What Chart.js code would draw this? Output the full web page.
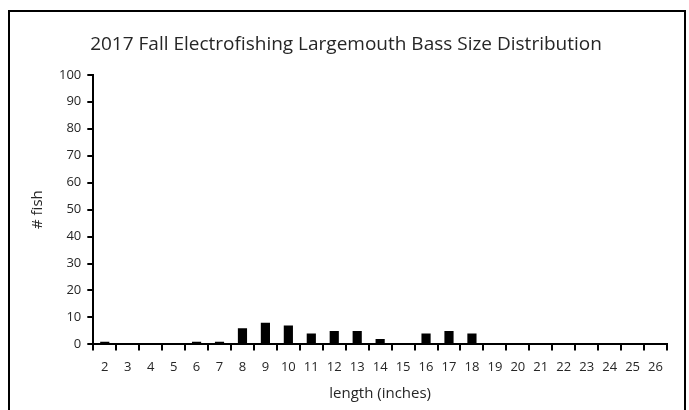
<!DOCTYPE html>
<html>
<head>
<meta charset="utf-8">
<script src="https://cdn.jsdelivr.net/npm/chart.js@4"></script>
<style>
  html, body { margin:0; padding:0; background:#fff; }
  #wrap { position:relative; width:689px; height:410px; }
</style>
</head>
<body>
<div id="wrap"><canvas id="sizeChart" width="689" height="410"></canvas></div>
<script>
const lengths = ["2","3","4","5","6","7","8","9","10","11","12","13","14","15","16","17","18","19","20","21","22","23","24","25","26"];
const fishCounts = [1,0,0,0,1,1,6,8,7,4,5,5,2,0,4,5,4,0,0,0,0,0,0,0,0];

const chartTitle = "2017 Fall Electrofishing Largemouth Bass Size Distribution";
const xTitle = "length (inches)";
const yTitle = "# fish";

const FONT = "'Open Sans', 'Noto Sans', sans-serif";
const TEXT = "#262626";

// outer frame like the spreadsheet chart box
const framePlugin = {
  id: "frame",
  beforeDraw(chart){
    const c = chart.ctx;
    c.save();
    c.fillStyle = "#fff";
    c.fillRect(0, 0, chart.width, chart.height);
    c.strokeStyle = "#000";
    c.lineWidth = 2;
    c.strokeRect(9, 11, 676, 420);
    c.restore();
  }
};

new Chart(document.getElementById("sizeChart"), {
  type: "bar",
  data: {
    labels: lengths,
    datasets: [{
      label: yTitle,
      data: fishCounts,
      backgroundColor: "#000",
      barPercentage: 0.4,
      categoryPercentage: 1
    }]
  },
  options: {
    responsive: false,
    animation: false,
    layout: { padding: { left: 25, right: 22, top: 27, bottom: 3 } },
    plugins: {
      legend: { display: false },
      tooltip: { enabled: false },
      title: {
        display: true,
        text: chartTitle,
        color: TEXT,
        font: { family: FONT, size: 19, weight: "normal" },
        padding: { top: 6, bottom: 19 }
      }
    },
    scales: {
      x: {
        offset: true,
        grid: { display: true, drawOnChartArea: false, offset: true, tickLength: 6, color: "#000", lineWidth: 2 },
        border: { color: "#000", width: 2 },
        ticks: { color: TEXT, font: { family: FONT, size: 13 }, padding: 9, maxRotation: 0, autoSkip: false },
        title: { display: true, text: xTitle, color: TEXT, font: { family: FONT, size: 15 }, padding: { top: 1 } }
      },
      y: {
        min: 0,
        max: 100,
        grid: { display: true, drawOnChartArea: false, tickLength: 6, color: "#000", lineWidth: 2 },
        border: { color: "#000", width: 2 },
        ticks: { stepSize: 10, color: TEXT, font: { family: FONT, size: 13 }, padding: 6 },
        title: { display: true, text: yTitle, color: TEXT, font: { family: FONT, size: 15 }, padding: { bottom: 6 } }
      }
    }
  },
  plugins: [framePlugin]
});
</script>
</body>
</html>
